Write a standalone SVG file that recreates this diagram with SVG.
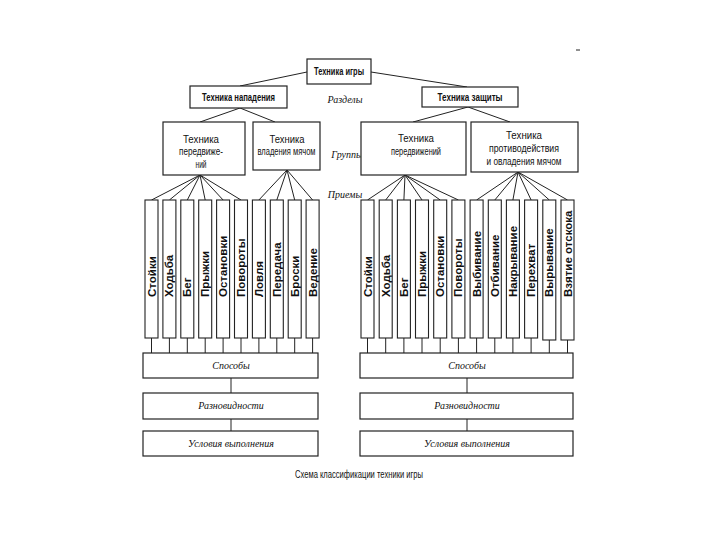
<svg xmlns="http://www.w3.org/2000/svg" width="720" height="540" viewBox="0 0 720 540">
<style>
.box{fill:#fff;stroke:#222;stroke-width:1.2}
.leaf{fill:#fff;stroke:#222;stroke-width:1.1}
.ln{stroke:#222;stroke-width:1;fill:none}
.t{font-family:"Liberation Sans",Arial,sans-serif;font-size:10px;fill:#111;text-anchor:middle}
.tb{font-weight:bold}
.it{font-family:"Liberation Serif","Times New Roman",serif;font-style:italic;font-size:10px;fill:#111;text-anchor:middle}
.v{font-family:"Liberation Sans",Arial,sans-serif;font-weight:bold;font-size:11.5px;fill:#111}
</style>
<rect width="720" height="540" fill="#fff"/>
<g id="connectors">
<path class="ln" d="M307,72 L240,86 M371,72 L467,87"/>
<path class="ln" d="M240,108 L200,122 M240,108 L275,122 M468,107 L413,122 M468,107 L510,122"/>
<path class="ln" d="M200,175 L151.5,200 M200,175 L169.4,200 M200,175 L187.3,200 M200,175 L205.2,200 M200,175 L223.1,200 M200,175 L241,200"/>
<path class="ln" d="M287,170 L258.9,200 M287,170 L276.8,200 M287,170 L294.7,200 M287,170 L312.6,200"/>
<path class="ln" d="M405,175 L367.5,200 M405,175 L385.7,200 M405,175 L403.9,200 M405,175 L422,200 M405,175 L440.2,200 M405,175 L458.4,200"/>
<path class="ln" d="M518,172 L476.6,200 M518,172 L494.8,200 M518,172 L512.9,200 M518,172 L531.1,200 M518,172 L549.3,200 M518,172 L567.5,200"/>
<path class="ln" d="M151.5,338 V353 M169.4,338 V353 M187.3,338 V353 M205.2,338 V353 M223.1,338 V353 M241,338 V353 M258.9,338 V353 M276.8,338 V353 M294.7,338 V353 M312.6,338 V353"/>
<path class="ln" d="M367.5,338 V353 M385.7,338 V353 M403.9,338 V353 M422,338 V353 M440.2,338 V353 M458.4,338 V353 M476.6,338 V353 M494.8,338 V353 M512.9,338 V353 M531.1,338 V353 M549.3,340 V353 M567.5,340 V353"/>
<path class="ln" d="M231,378 V393 M231,419 V431 M467,378 V393 M467,419 V431"/>
</g>
<g id="root"><rect class="box" x="307" y="59" width="64" height="25"/><text class="t tb" x="339" y="75" textLength="50" lengthAdjust="spacingAndGlyphs">Техника игры</text></g>
<g id="attack"><rect class="box" x="190" y="86" width="97" height="22"/><text class="t tb" x="238.5" y="101" textLength="73" lengthAdjust="spacingAndGlyphs">Техника нападения</text></g>
<g id="defense"><rect class="box" x="422" y="87" width="96" height="20"/><text class="t tb" x="470" y="101" textLength="65" lengthAdjust="spacingAndGlyphs">Техника защиты</text></g>
<text class="it" x="345" y="103">Разделы</text>
<text class="it" x="347" y="158">Группы</text>
<text class="it" x="345" y="198">Приемы</text>
<g id="g-move-a"><rect class="box" x="163" y="122" width="82" height="53"/><text class="t" x="201" y="143" textLength="36" lengthAdjust="spacingAndGlyphs">Техника</text><text class="t" x="201" y="155" textLength="44" lengthAdjust="spacingAndGlyphs">передвиже-</text><text class="t" x="201" y="168" textLength="11" lengthAdjust="spacingAndGlyphs">ний</text></g>
<g id="g-ball-a"><rect class="box" x="253" y="122" width="67" height="48"/><text class="t" x="287" y="143" textLength="35" lengthAdjust="spacingAndGlyphs">Техника</text><text class="t" x="286.5" y="155" textLength="58" lengthAdjust="spacingAndGlyphs">владения мячом</text></g>
<g id="g-move-d"><rect class="box" x="361" y="122" width="105" height="53"/><text class="t" x="416" y="142" textLength="36" lengthAdjust="spacingAndGlyphs">Техника</text><text class="t" x="416" y="155" textLength="50" lengthAdjust="spacingAndGlyphs">передвижений</text></g>
<g id="g-counter-d"><rect class="box" x="471" y="122" width="107" height="50"/><text class="t" x="524" y="139" textLength="36" lengthAdjust="spacingAndGlyphs">Техника</text><text class="t" x="524" y="152" textLength="70" lengthAdjust="spacingAndGlyphs">противодействия</text><text class="t" x="524" y="165" textLength="75" lengthAdjust="spacingAndGlyphs">и овладения мячом</text></g>
<g id="leaves-a">
<g id="la1"><rect class="leaf" x="145" y="200" width="13" height="138"/><text class="v" transform="translate(155.5,297) rotate(-90)">Стойки</text></g>
<g id="la2"><rect class="leaf" x="162.9" y="200" width="13" height="138"/><text class="v" transform="translate(173.4,297) rotate(-90)">Ходьба</text></g>
<g id="la3"><rect class="leaf" x="180.8" y="200" width="13" height="138"/><text class="v" transform="translate(191.3,297) rotate(-90)">Бег</text></g>
<g id="la4"><rect class="leaf" x="198.7" y="200" width="13" height="138"/><text class="v" transform="translate(209.2,297) rotate(-90)">Прыжки</text></g>
<g id="la5"><rect class="leaf" x="216.6" y="200" width="13" height="138"/><text class="v" transform="translate(227.1,297) rotate(-90)">Остановки</text></g>
<g id="la6"><rect class="leaf" x="234.5" y="200" width="13" height="138"/><text class="v" transform="translate(245,297) rotate(-90)">Повороты</text></g>
<g id="la7"><rect class="leaf" x="252.4" y="200" width="13" height="138"/><text class="v" transform="translate(262.9,297) rotate(-90)">Ловля</text></g>
<g id="la8"><rect class="leaf" x="270.3" y="200" width="13" height="138"/><text class="v" transform="translate(280.8,297) rotate(-90)">Передача</text></g>
<g id="la9"><rect class="leaf" x="288.2" y="200" width="13" height="138"/><text class="v" transform="translate(298.7,297) rotate(-90)">Броски</text></g>
<g id="la10"><rect class="leaf" x="306.1" y="200" width="13" height="138"/><text class="v" transform="translate(316.6,297) rotate(-90)">Ведение</text></g>
</g>
<g id="leaves-d">
<g id="ld1"><rect class="leaf" x="361" y="200" width="13" height="138"/><text class="v" transform="translate(371.5,297) rotate(-90)">Стойки</text></g>
<g id="ld2"><rect class="leaf" x="379.2" y="200" width="13" height="138"/><text class="v" transform="translate(389.7,297) rotate(-90)">Ходьба</text></g>
<g id="ld3"><rect class="leaf" x="397.4" y="200" width="13" height="138"/><text class="v" transform="translate(407.9,297) rotate(-90)">Бег</text></g>
<g id="ld4"><rect class="leaf" x="415.5" y="200" width="13" height="138"/><text class="v" transform="translate(426,297) rotate(-90)">Прыжки</text></g>
<g id="ld5"><rect class="leaf" x="433.7" y="200" width="13" height="138"/><text class="v" transform="translate(444.2,297) rotate(-90)">Остановки</text></g>
<g id="ld6"><rect class="leaf" x="451.9" y="200" width="13" height="138"/><text class="v" transform="translate(462.4,297) rotate(-90)">Повороты</text></g>
<g id="ld7"><rect class="leaf" x="470.1" y="200" width="13" height="138"/><text class="v" transform="translate(480.6,297) rotate(-90)">Выбивание</text></g>
<g id="ld8"><rect class="leaf" x="488.3" y="200" width="13" height="138"/><text class="v" transform="translate(498.8,297) rotate(-90)">Отбивание</text></g>
<g id="ld9"><rect class="leaf" x="506.4" y="200" width="13" height="138"/><text class="v" transform="translate(516.9,297) rotate(-90)">Накрывание</text></g>
<g id="ld10"><rect class="leaf" x="524.6" y="200" width="13" height="138"/><text class="v" transform="translate(535.1,297) rotate(-90)">Перехват</text></g>
<g id="ld11"><rect class="leaf" x="542.8" y="200" width="13" height="140"/><text class="v" transform="translate(553.3,297) rotate(-90)">Вырывание</text></g>
<g id="ld12"><rect class="leaf" x="561" y="200" width="13" height="140"/><text class="v" transform="translate(571.5,297) rotate(-90)">Взятие отскока</text></g>
</g>
<g id="ways-a"><rect class="box" x="143" y="353" width="175" height="25"/><text class="it" x="231" y="369">Способы</text></g>
<g id="kinds-a"><rect class="box" x="143" y="393" width="175" height="26"/><text class="it" x="231" y="409">Разновидности</text></g>
<g id="cond-a"><rect class="box" x="143" y="431" width="175" height="25"/><text class="it" x="231" y="447">Условия выполнения</text></g>
<g id="ways-d"><rect class="box" x="360" y="353" width="213" height="25"/><text class="it" x="467" y="369">Способы</text></g>
<g id="kinds-d"><rect class="box" x="360" y="393" width="213" height="26"/><text class="it" x="467" y="409">Разновидности</text></g>
<g id="cond-d"><rect class="box" x="360" y="431" width="213" height="25"/><text class="it" x="467" y="447">Условия выполнения</text></g>
<text class="t" x="359" y="478" textLength="128" lengthAdjust="spacingAndGlyphs">Схема классификации техники игры</text>
<path class="ln" d="M576,50 H580"/>
</svg>
